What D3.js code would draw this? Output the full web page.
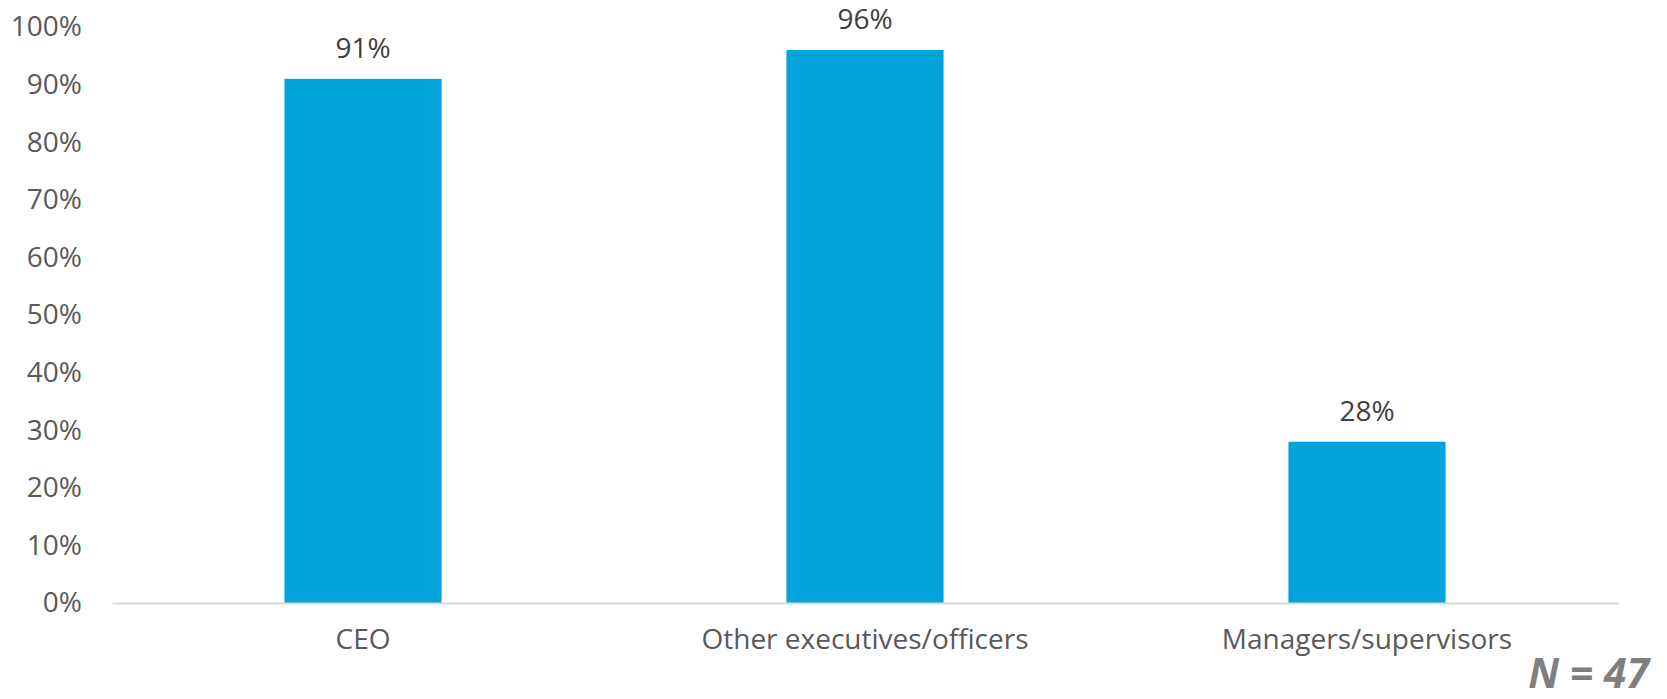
<!DOCTYPE html>
<html>
<head>
<meta charset="utf-8">
<script src="https://cdn.jsdelivr.net/npm/d3@7"></script>
<style>
  html, body { margin: 0; padding: 0; background: #ffffff; }
  svg { display: block; font-family: "Open Sans", sans-serif; }
</style>
</head>
<body>
<svg id="chart" width="1667" height="699"></svg>
<script>
// Share of respondents by role
const categories = ["CEO", "Other executives/officers", "Managers/supervisors"];
const values = [91, 96, 28];
const yTicks = [0, 10, 20, 30, 40, 50, 60, 70, 80, 90, 100];
const footnote = "N = 47";

const svg = d3.select("#chart");
const margin = { top: 27, right: 49, bottom: 96, left: 112 };
const width = 1667 - margin.left - margin.right;
const height = 699 - margin.top - margin.bottom;

const g = svg.append("g").attr("transform", `translate(${margin.left},${margin.top})`);

const x = d3.scaleBand()
  .domain(categories)
  .range([0, width])
  .paddingInner(0.687)
  .paddingOuter(0.3435);

const y = d3.scaleLinear().domain([0, 100]).range([height, 0]);

// y-axis labels (no axis line, no ticks)
const yAxis = g.append("g")
  .call(d3.axisLeft(y).tickValues(yTicks).tickFormat(d => d + "%").tickSize(0).tickPadding(30));
yAxis.select(".domain").remove();
yAxis.selectAll("text")
  .attr("fill", "#595959")
  .style("font-size", "28px")
  .style("font-family", "'Open Sans', sans-serif");

// bars
g.selectAll("rect.bar")
  .data(values)
  .join("rect")
  .attr("class", "bar")
  .attr("x", (d, i) => x(categories[i]))
  .attr("y", d => y(d))
  .attr("width", x.bandwidth())
  .attr("height", d => height - y(d))
  .attr("fill", "#00A3DA");

// value labels
g.selectAll("text.val")
  .data(values)
  .join("text")
  .attr("class", "val")
  .attr("x", (d, i) => x(categories[i]) + x.bandwidth() / 2)
  .attr("y", d => y(d) - 21)
  .attr("text-anchor", "middle")
  .attr("fill", "#404040")
  .style("font-size", "28px")
  .text(d => d + "%");

// x-axis baseline and category labels
const xAxis = g.append("g")
  .attr("transform", `translate(0,${height})`)
  .call(d3.axisBottom(x).tickSize(0).tickPadding(26));
xAxis.select(".domain").attr("stroke", "#d9d9d9").attr("stroke-width", 2);
xAxis.selectAll("text")
  .attr("fill", "#595959")
  .style("font-size", "28px")
  .style("font-family", "'Open Sans', sans-serif");

// sample size note
svg.append("text")
  .attr("x", 1649)
  .attr("y", 688)
  .attr("text-anchor", "end")
  .attr("fill", "#7f7f7f")
  .style("font-size", "41px")
  .style("font-weight", "bold")
  .style("font-style", "italic")
  .text(footnote);
</script>
</body>
</html>
